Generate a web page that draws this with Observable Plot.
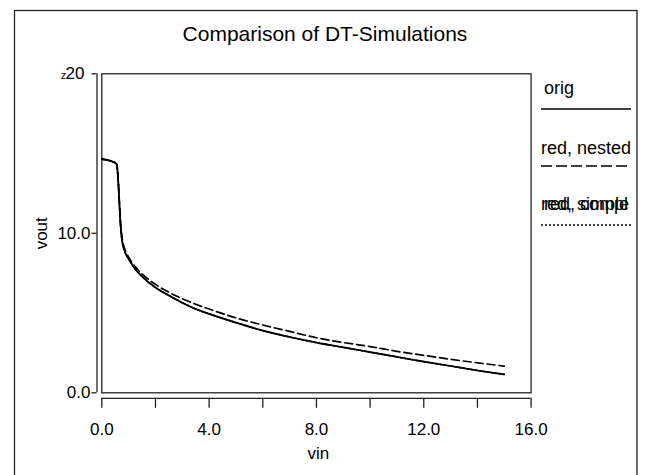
<!DOCTYPE html>
<html><head><meta charset="utf-8">
<script src="https://cdn.jsdelivr.net/npm/d3@7"></script>
<script src="https://cdn.jsdelivr.net/npm/@observablehq/plot@0.6"></script>
<style>body{margin:0;background:#fff} svg{display:block}</style>
</head><body><div id="chart"></div><script>
const title = "Comparison of DT-Simulations";
const xLabel = "vin";
const yLabel = "vout";
const vin    = [0, 0.3, 0.55, 0.6, 0.65, 0.7, 0.75, 0.85, 1.0, 1.25, 1.5, 2.0, 2.5, 3.0, 3.5, 4.0, 5.0, 6.0, 7.0, 8.0, 9.0, 10.0, 11.0, 12.0, 13.0, 14.0, 15.0];
const orig   = [14.65, 14.55, 14.35, 13.6, 12.0, 10.5, 9.6, 8.9, 8.4, 7.75, 7.3, 6.6, 6.1, 5.65, 5.25, 4.95, 4.4, 3.9, 3.5, 3.15, 2.85, 2.55, 2.25, 1.95, 1.68, 1.4, 1.15];
const nested = [14.65, 14.55, 14.35, 13.7, 12.2, 10.7, 9.8, 9.05, 8.5, 7.9, 7.45, 6.8, 6.3, 5.9, 5.55, 5.25, 4.7, 4.25, 3.85, 3.45, 3.15, 2.9, 2.6, 2.35, 2.1, 1.88, 1.67];
const simple = [14.65, 14.55, 14.35, 13.6, 12.0, 10.5, 9.6, 8.9, 8.4, 7.75, 7.3, 6.6, 6.1, 5.65, 5.25, 4.95, 4.4, 3.9, 3.5, 3.15, 2.85, 2.55, 2.25, 1.95, 1.68, 1.4, 1.15];
const seriesNames = ["orig", "red, nested", "red, simple"];
const xTicks = [0, 2, 4, 6, 8, 10, 12, 14, 16];
const yTicks = [0, 10, 20];

const dashes = {"orig": null, "red, nested": "8,4", "red, simple": "2,2"};
const table = [];
[orig, nested, simple].forEach((vals, i) => {
  vals.forEach((v, j) => table.push({series: seriesNames[i], vin: vin[j], vout: v}));
});
const lineFor = name => Plot.line(table.filter(d => d.series === name), {
  x: "vin", y: "vout", stroke: "black", strokeWidth: 1.7,
  strokeDasharray: dashes[name], curve: "monotone-x"
});

const FONT = "'Liberation Sans', Arial, sans-serif";
const W = 646, H = 475;
const plot = Plot.plot({
  width: W, height: H,
  marginLeft: 101.3, marginRight: 115.4, marginTop: 73.3, marginBottom: 82.7,
  style: {fontFamily: FONT, fontSize: "17px", background: "white", color: "black"},
  x: {domain: [0, 16]},
  y: {domain: [0, 20]},
  marks: [
    Plot.frame({stroke: "#222", strokeWidth: 1.3}),
    // x axis (offset below frame)
    Plot.ruleY([0], {x1: 0, x2: 16, dy: 5.5, stroke: "#222", strokeWidth: 1.3}),
    Plot.axisX({ticks: xTicks, tickSize: 10, tickPadding: 15, dy: 5.5, fontSize: 17,
      stroke: "#222", strokeWidth: 1.3,
      tickFormat: d => d % 4 === 0 ? d.toFixed(1) : "", label: null}),
    // y axis (offset left of frame)
    Plot.ruleX([0], {y1: 0, y2: 20, dx: -4.8, stroke: "#222", strokeWidth: 1.3}),
    Plot.axisY({ticks: yTicks, tickSize: 5, tickPadding: 1.5, dx: -4.8, fontSize: 17,
      stroke: "#222", strokeWidth: 1.3,
      tickFormat: d => d === 20 ? "" : d.toFixed(1), label: null}),
    Plot.text(["20"], {x: 0, y: 20, dx: -17.3, fontSize: 17, textAnchor: "end"}),
    Plot.text(["z"], {x: 0, y: 20, dx: -35.5, dy: 2, fontSize: 11, textAnchor: "end"}),
    Plot.text([yLabel], {frameAnchor: "left", dx: -60, rotate: -90, fontSize: 17, textAnchor: "middle", lineAnchor: "middle"}),
    Plot.text([xLabel], {frameAnchor: "bottom", dx: 2, dy: 61, fontSize: 17, lineAnchor: "middle"}),
    Plot.text([title], {frameAnchor: "top", dx: 8.5, dy: -40, fontSize: 21, lineAnchor: "middle"}),
    lineFor("red, simple"),
    lineFor("red, nested"),
    lineFor("orig")
  ]
});
document.getElementById("chart").append(plot);

// outer border and legend
const svg = d3.select(plot);
svg.append("rect").attr("x", 14.5).attr("y", 10.5).attr("width", 622.5).attr("height", 500)
  .attr("fill", "none").attr("stroke", "#222").attr("stroke-width", 1.3);
const leg = svg.append("g").attr("font-family", FONT).attr("font-size", 18).attr("text-anchor", "start");
const legTextY = [88, 148, 204], legLineY = [109, 166, 225];
const legTextX = [544, 541, 541];
seriesNames.forEach((name, i) => {
  leg.append("text").attr("x", legTextX[i]).attr("y", legTextY[i]).attr("dy", "0.35em").text(name);
  leg.append("line").attr("x1", 541).attr("x2", 631).attr("y1", legLineY[i]).attr("y2", legLineY[i])
    .attr("stroke", "black").attr("stroke-width", 1.5)
    .attr("stroke-dasharray", name === "red, nested" ? "11,4" : name === "red, simple" ? "2,2" : null);
});
leg.append("text").attr("x", 544).attr("y", legTextY[2]).attr("dy", "0.35em").text("red, compl");
</script></body></html>
